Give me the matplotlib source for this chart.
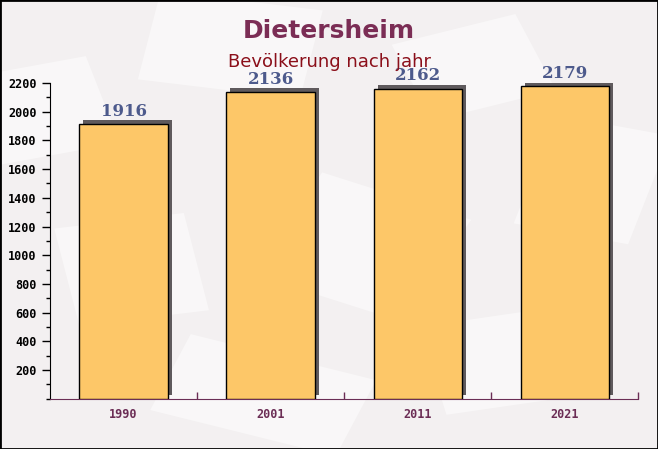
import matplotlib
matplotlib.use("Agg")
import matplotlib.pyplot as plt
from matplotlib.transforms import ScaledTranslation, Affine2D
from matplotlib.patches import Rectangle
from matplotlib.ticker import MultipleLocator, FixedLocator
import numpy as np

years = ["1990", "2001", "2011", "2021"]
population = [1916, 2136, 2162, 2179]

_BG = "#f3f0f1"
_BAR = "#fdc768"
_SHADOW = "#5f5a5d"
_TITLE = "#7b2d55"
_SUBTITLE = "#8b0f1a"
_VALUE = "#4d5a8c"
_XTICK = "#6b2d55"

fig = plt.figure(figsize=(6.58, 4.49), dpi=100)
fig.patch.set_facecolor(_BG)

# faint envelope-like shapes in the backdrop
for (cx, cy, w, h, ang) in [(0.05, 0.75, 0.22, 0.2, 15), (0.35, 0.9, 0.25, 0.2, -10),
                            (0.72, 0.85, 0.2, 0.18, 20), (0.9, 0.6, 0.18, 0.25, -15),
                            (0.2, 0.4, 0.2, 0.22, 10), (0.55, 0.45, 0.25, 0.25, -25),
                            (0.78, 0.2, 0.25, 0.2, 12), (0.4, 0.12, 0.3, 0.18, -20)]:
    r = Rectangle((cx - w / 2, cy - h / 2), w, h, facecolor="white", alpha=0.5,
                  edgecolor="none", zorder=-5,
                  transform=Affine2D().rotate_deg_around(cx, cy, ang) + fig.transFigure)
    fig.patches.append(r)

ax = fig.add_axes([0.076, 0.112, 0.894, 0.703])
ax.set_facecolor("none")

x = np.arange(len(years))
width = 0.6

shadow = ax.transData + ScaledTranslation(4 / 100, 4 / 100, fig.dpi_scale_trans)
ax.bar(x, population, width=width, color=_SHADOW, transform=shadow, zorder=2)
ax.bar(x, population, width=width, color=_BAR, edgecolor="black", linewidth=1, zorder=3)

for xi, val in zip(x, population):
    ax.annotate(str(val), (xi, val), xytext=(0, 3), textcoords="offset points",
                ha="center", va="bottom", fontsize=12, fontweight="bold",
                family="DejaVu Serif", color=_VALUE, annotation_clip=False, zorder=4)

ax.set_xlim(-0.5, len(years) - 0.5)
ax.set_ylim(0, 2200)

ax.yaxis.set_major_locator(FixedLocator(np.arange(200, 2201, 200)))
ax.yaxis.set_minor_locator(MultipleLocator(100))
ax.tick_params(axis="y", which="major", length=6, width=1, colors="black", direction="out")
ax.tick_params(axis="y", which="minor", length=3, width=1, color="black", direction="out")
for lbl in ax.get_yticklabels():
    lbl.set_family("DejaVu Sans Mono")
    lbl.set_fontweight("bold")
    lbl.set_fontsize(8.5)

ax.set_xticks(x)
ax.set_xticklabels(years, family="DejaVu Sans Mono", fontweight="bold", fontsize=8.5, color=_XTICK)
ax.tick_params(axis="x", which="major", length=0, pad=7)
ax.xaxis.set_minor_locator(FixedLocator(np.arange(0.5, len(years), 1.0)))
ax.tick_params(axis="x", which="minor", length=5, width=1, color=_XTICK, direction="in")

ax.spines["top"].set_visible(False)
ax.spines["right"].set_visible(False)
ax.spines["left"].set_color("black")
ax.spines["bottom"].set_color(_XTICK)

fig.text(0.5, 0.93, "Dietersheim", ha="center", va="center", fontsize=18,
         fontweight="bold", color=_TITLE)
fig.text(0.5, 0.862, "Bevölkerung nach jahr", ha="center", va="center", fontsize=13,
         color=_SUBTITLE)

border = Rectangle((0, 0), 1, 1, transform=fig.transFigure, facecolor="none",
                   edgecolor="black", linewidth=2, zorder=10)
fig.patches.append(border)

fig.savefig("out.png", dpi=100, facecolor=_BG)
